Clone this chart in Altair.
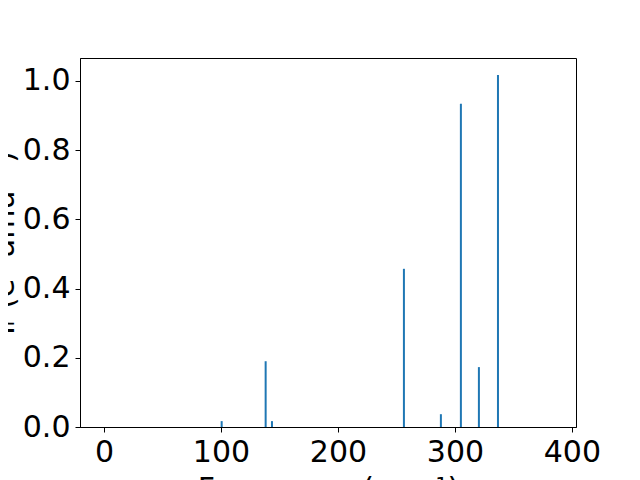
import altair as alt
import pandas as pd

freqs = [100.6, 138.2, 143.6, 256.4, 288.0, 305.1, 320.5, 336.8]
intensities = [0.017, 0.19, 0.017, 0.457, 0.037, 0.934, 0.173, 1.017]
x_ticks = [0, 100, 200, 300, 400]
y_ticks = [0.0, 0.2, 0.4, 0.6, 0.8, 1.0]

df = pd.DataFrame({"freq": freqs, "inten": intensities, "zero": [0.0] * len(freqs)})

font = "DejaVu Sans"

chart = alt.Chart(df).mark_rule(color="#1f77b4", strokeWidth=2).encode(
    x=alt.X("freq:Q",
            scale=alt.Scale(domain=[-20.5, 403.5], nice=False, zero=False),
            axis=alt.Axis(values=x_ticks, title="Frequency (cm⁻¹)", format="d")),
    y=alt.Y("zero:Q",
            scale=alt.Scale(domain=[0, 1.066], nice=False),
            axis=alt.Axis(values=y_ticks, title="Iᵣ (e² amu⁻¹)", format=".1f")),
    y2="inten:Q",
).properties(
    width=496, height=369,
    autosize=alt.AutoSizeParams(type="none"),
    padding={"left": 72, "top": 50, "right": 56, "bottom": 60},
).configure_view(
    stroke="black", strokeWidth=1
).configure_axis(
    grid=False,
    domainColor="black",
    tickColor="black",
    tickSize=5,
    labelPadding=5,
    labelFont=font,
    labelFontSize=30,
    labelColor="black",
    titleFont=font,
    titleFontSize=30,
    titleFontWeight="normal",
    titleColor="black",
).configure_axisY(
    titlePadding=3,
).configure_axisX(
    titlePadding=7,
)

chart.save("out.html", embed_options={"renderer": "svg", "actions": False})
